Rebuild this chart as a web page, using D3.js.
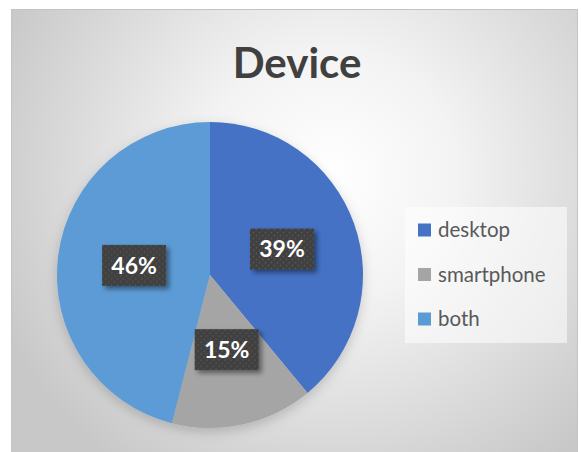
<!DOCTYPE html>
<html>
<head>
<meta charset="utf-8">
<script src="https://cdn.jsdelivr.net/npm/d3@7"></script>
<style>
  body { margin: 0; background: #fff; }
  svg { display: block; }
</style>
</head>
<body>
<div id="chart"></div>
<script>
// data
var categories = ["desktop", "smartphone", "both"];
var shares = [39, 15, 46];
var colors = ["#4472C4", "#A5A5A5", "#5B9BD5"];
var title = "Device";

var width = 581, height = 452;
var frame = {x: 11, y: 9, w: 566, h: 450};
var cx = 210, cy = 275, radius = 153;

var svg = d3.select("#chart").append("svg")
  .attr("width", width)
  .attr("height", height);

var defs = svg.append("defs");

// background radial gradient (excel style)
var grad = defs.append("radialGradient")
  .attr("id", "bg")
  .attr("gradientUnits", "userSpaceOnUse")
  .attr("cx", 330).attr("cy", 175).attr("r", 360);
grad.append("stop").attr("offset", "0%").attr("stop-color", "#ffffff");
grad.append("stop").attr("offset", "35%").attr("stop-color", "#f3f3f3");
grad.append("stop").attr("offset", "100%").attr("stop-color", "#c8c8c8");

// dotted fill for the label boxes
var pat = defs.append("pattern")
  .attr("id", "dots")
  .attr("patternUnits", "userSpaceOnUse")
  .attr("width", 6).attr("height", 6);
pat.append("rect").attr("width", 6).attr("height", 6).attr("fill", "#3f3f3f");
pat.append("circle").attr("cx", 1.5).attr("cy", 1.5).attr("r", 0.9).attr("fill", "#555");
pat.append("circle").attr("cx", 4.5).attr("cy", 4.5).attr("r", 0.9).attr("fill", "#555");

var shadow = defs.append("filter").attr("id", "shadow")
  .attr("x", "-20%").attr("y", "-20%").attr("width", "150%").attr("height", "150%");
shadow.append("feDropShadow")
  .attr("dx", 3).attr("dy", 3).attr("stdDeviation", 2.5)
  .attr("flood-color", "#000").attr("flood-opacity", 0.45);

var pieShadow = defs.append("filter").attr("id", "pieShadow")
  .attr("x", "-20%").attr("y", "-20%").attr("width", "140%").attr("height", "140%");
pieShadow.append("feDropShadow")
  .attr("dx", 0).attr("dy", 4).attr("stdDeviation", 6)
  .attr("flood-color", "#000").attr("flood-opacity", 0.18);

svg.append("rect")
  .attr("x", frame.x + 0.5).attr("y", frame.y + 0.5)
  .attr("width", frame.w).attr("height", frame.h)
  .attr("fill", "url(#bg)")
  .attr("stroke", "#c4c4c4");

svg.append("text")
  .attr("x", 297).attr("y", 78)
  .attr("text-anchor", "middle")
  .style("font-family", "Lato, 'Open Sans', sans-serif")
  .style("font-weight", "bold")
  .style("font-size", "42px")
  .style("fill", "#404040")
  .text(title);

var data = categories.map(function(c, i) { return {name: c, value: shares[i], color: colors[i]}; });

var pie = d3.pie().sort(null).value(function(d) { return d.value; });
var arc = d3.arc().innerRadius(0).outerRadius(radius);

var g = svg.append("g").attr("transform", "translate(" + cx + "," + cy + ")");

g.append("g").attr("filter", "url(#pieShadow)")
  .selectAll("path")
  .data(pie(data))
  .enter().append("path")
  .attr("d", arc)
  .attr("fill", function(d) { return d.data.color; });

var boxW = 64, boxH = 41;
var labels = g.selectAll(".lbl")
  .data(pie(data))
  .enter().append("g")
  .attr("class", "lbl")
  .attr("transform", function(d) {
    var c = arc.centroid(d);
    return "translate(" + c[0] + "," + c[1] + ")";
  });

labels.append("rect")
  .attr("x", -boxW / 2).attr("y", -boxH / 2)
  .attr("width", boxW).attr("height", boxH)
  .attr("fill", "url(#dots)")
  .attr("filter", "url(#shadow)");

labels.append("text")
  .attr("text-anchor", "middle")
  .attr("dy", "0.36em")
  .style("font-family", "Lato, 'Open Sans', sans-serif")
  .style("font-weight", "bold")
  .style("font-size", "23px")
  .style("fill", "#fff")
  .text(function(d) { return d.data.value + "%"; });

// legend
var legend = svg.append("g").attr("transform", "translate(405,207)");
legend.append("rect")
  .attr("width", 162).attr("height", 136)
  .attr("fill", "#fff").attr("fill-opacity", 0.55);

var item = legend.selectAll(".item")
  .data(data)
  .enter().append("g")
  .attr("class", "item")
  .attr("transform", function(d, i) { return "translate(13," + (23 + i * 44.5) + ")"; });

item.append("rect")
  .attr("x", 0).attr("y", -6.5)
  .attr("width", 13).attr("height", 13)
  .attr("fill", function(d) { return d.color; });

item.append("text")
  .attr("x", 20).attr("dy", "0.35em")
  .style("font-family", "Lato, 'Open Sans', sans-serif")
  .style("font-size", "20.5px")
  .style("fill", "#595959")
  .text(function(d) { return d.name; });
</script>
</body>
</html>
